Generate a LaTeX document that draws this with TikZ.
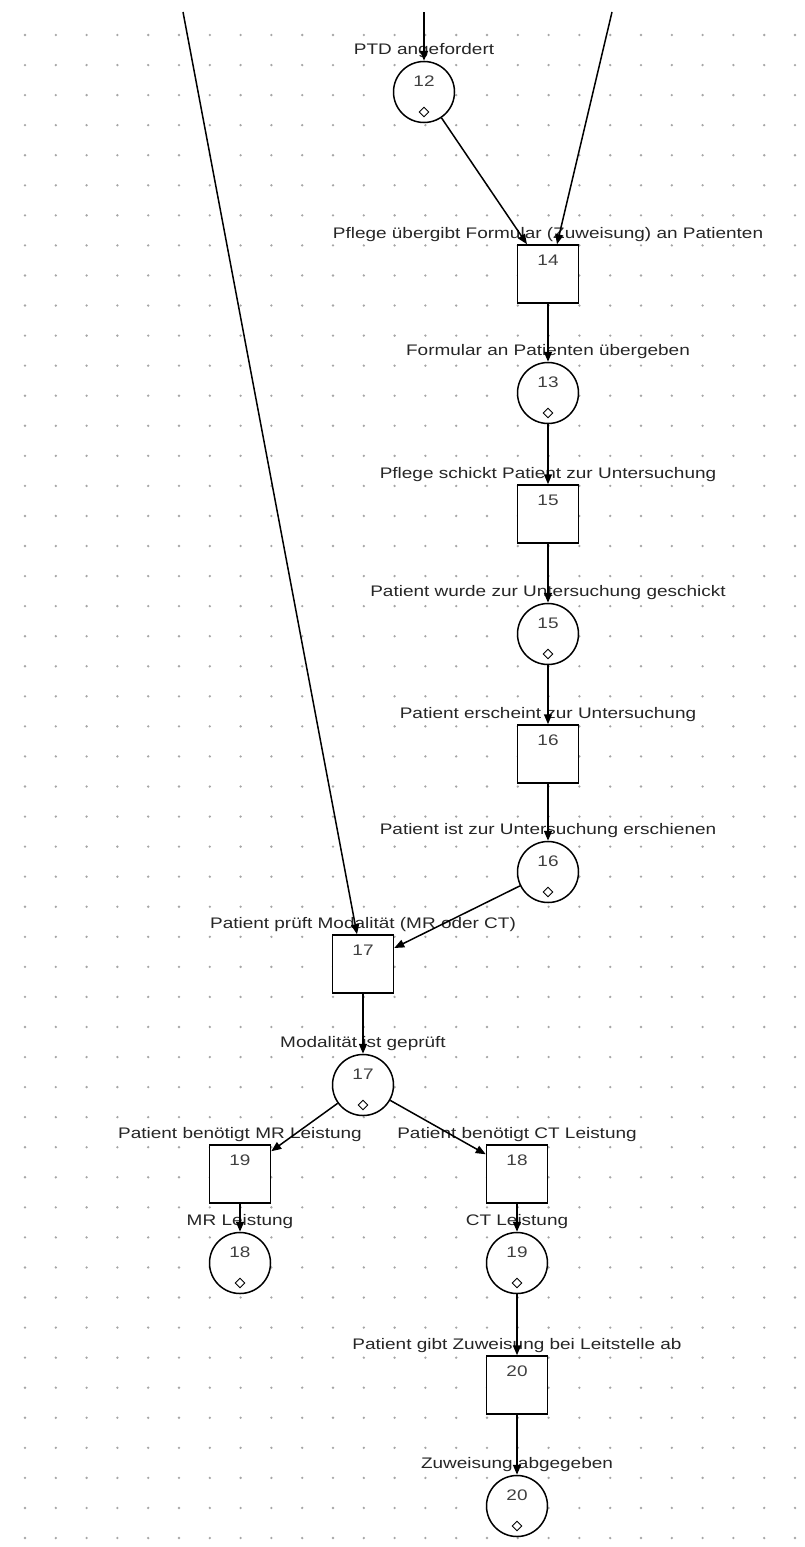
\documentclass[tikz,border=0pt]{standalone}
\usepackage{fontspec}
\usepackage{graphicx}
\setmainfont{Liberation Sans}
\usetikzlibrary{arrows.meta,calc,shapes.geometric}
\newcommand\wide[1]{\scalebox{1.24}[1]{#1}}
\tikzset{
 place/.style={circle, draw, line width=1.5pt, fill=white, minimum size=61pt, inner sep=0pt},
 trans/.style={rectangle, draw, line width=1.5pt, fill=white, minimum width=61pt, minimum height=58pt, inner sep=0pt},
 num/.style={inner sep=0pt, font=\fontsize{15.3}{18}\selectfont, text=black!75},
 lbl/.style={anchor=base, inner sep=0pt, font=\fontsize{15.3}{18}\selectfont, text=black!85},
 tok/.style={diamond, draw, line width=0.9pt, minimum size=10pt, inner sep=0pt, fill=white},
 arc/.style={line width=1.5pt, -{Triangle[length=10pt,width=8pt]}},
 dotc/.style={fill=gray!70},
}
\newcommand\mkplace[4]{%
 \node[place] (#1) at (#2) {};
 \node[num] (#1n) at ([yshift=11]#1.center) {\wide{#3}};
 \node[tok] (#1t) at ([yshift=-20]#1.center) {};
 \node[lbl] (#1l) at ([yshift=6]#1.north) {\wide{#4}};
}
\newcommand\mktrans[4]{%
 \node[trans] (#1) at (#2) {};
 \node[num] (#1n) at ([yshift=-16]#1.north) {\wide{#3}};
 \node[lbl] (#1l) at ([yshift=6]#1.north) {\wide{#4}};
}
\begin{document}
\begin{tikzpicture}[x=1pt,y=-1pt]
\useasboundingbox (0,0) rectangle (804,1547);
\fill[white] (0,0) rectangle (804,1547);
\foreach \i in {0,...,25} {
  \foreach \j in {0,...,50} {
    \fill[dotc] ({25+30.8*\i},{35+30.06*\j}) circle (1.3);
  }
}
\mkplace{p12}{424,92}{12}{PTD angefordert}
\mktrans{b14}{548,274}{14}{Pflege übergibt Formular (Zuweisung) an Patienten}
\mkplace{p13}{548,393}{13}{Formular an Patienten übergeben}
\mktrans{b15}{548,514}{15}{Pflege schickt Patient zur Untersuchung}
\mkplace{p15}{548,634}{15}{Patient wurde zur Untersuchung geschickt}
\mktrans{b16}{548,754}{16}{Patient erscheint zur Untersuchung}
\mkplace{p16}{548,872}{16}{Patient ist zur Untersuchung erschienen}
\mktrans{b17}{363,964}{17}{Patient prüft Modalität (MR oder CT)}
\mkplace{p17}{363,1085}{17}{Modalität ist geprüft}
\mktrans{b19}{240,1174}{19}{Patient benötigt MR Leistung}
\mkplace{p18}{240,1263}{18}{MR Leistung}
\mktrans{b18}{517,1174}{18}{Patient benötigt CT Leistung}
\mkplace{p19}{517,1263}{19}{CT Leistung}
\mktrans{b20}{517,1385}{20}{Patient gibt Zuweisung bei Leitstelle ab}
\mkplace{p20}{517,1506}{20}{Zuweisung abgegeben}
\coordinate (inTop) at (424,12);
\coordinate (inRight) at (612,12);
\coordinate (inLeft) at (183,12);
\draw[arc] (inTop) -- (p12.north);
\draw[arc] (p12) -- ([xshift=-21]b14.north);
\draw[arc] (inRight) -- ([xshift=9]b14.north);
\draw[arc] (b14.south) -- (p13.north);
\draw[arc] (p13.south) -- (b15.north);
\draw[arc] (b15.south) -- (p15.north);
\draw[arc] (p15.south) -- (b16.north);
\draw[arc] (b16.south) -- (p16.north);
\draw[arc] (inLeft) -- ([xshift=-6]b17.north);
\draw[arc] (p16) -- ([yshift=16]b17.east);
\draw[arc] (b17.south) -- (p17.north);
\draw[arc] (p17) -- ([yshift=-7]b19.north east);
\draw[arc] (p17) -- ([yshift=-10]b18.north west);
\draw[arc] (b19.south) -- (p18.north);
\draw[arc] (b18.south) -- (p19.north);
\draw[arc] (p19.south) -- (b20.north);
\draw[arc] (b20.south) -- (p20.north);
\end{tikzpicture}
\end{document}
